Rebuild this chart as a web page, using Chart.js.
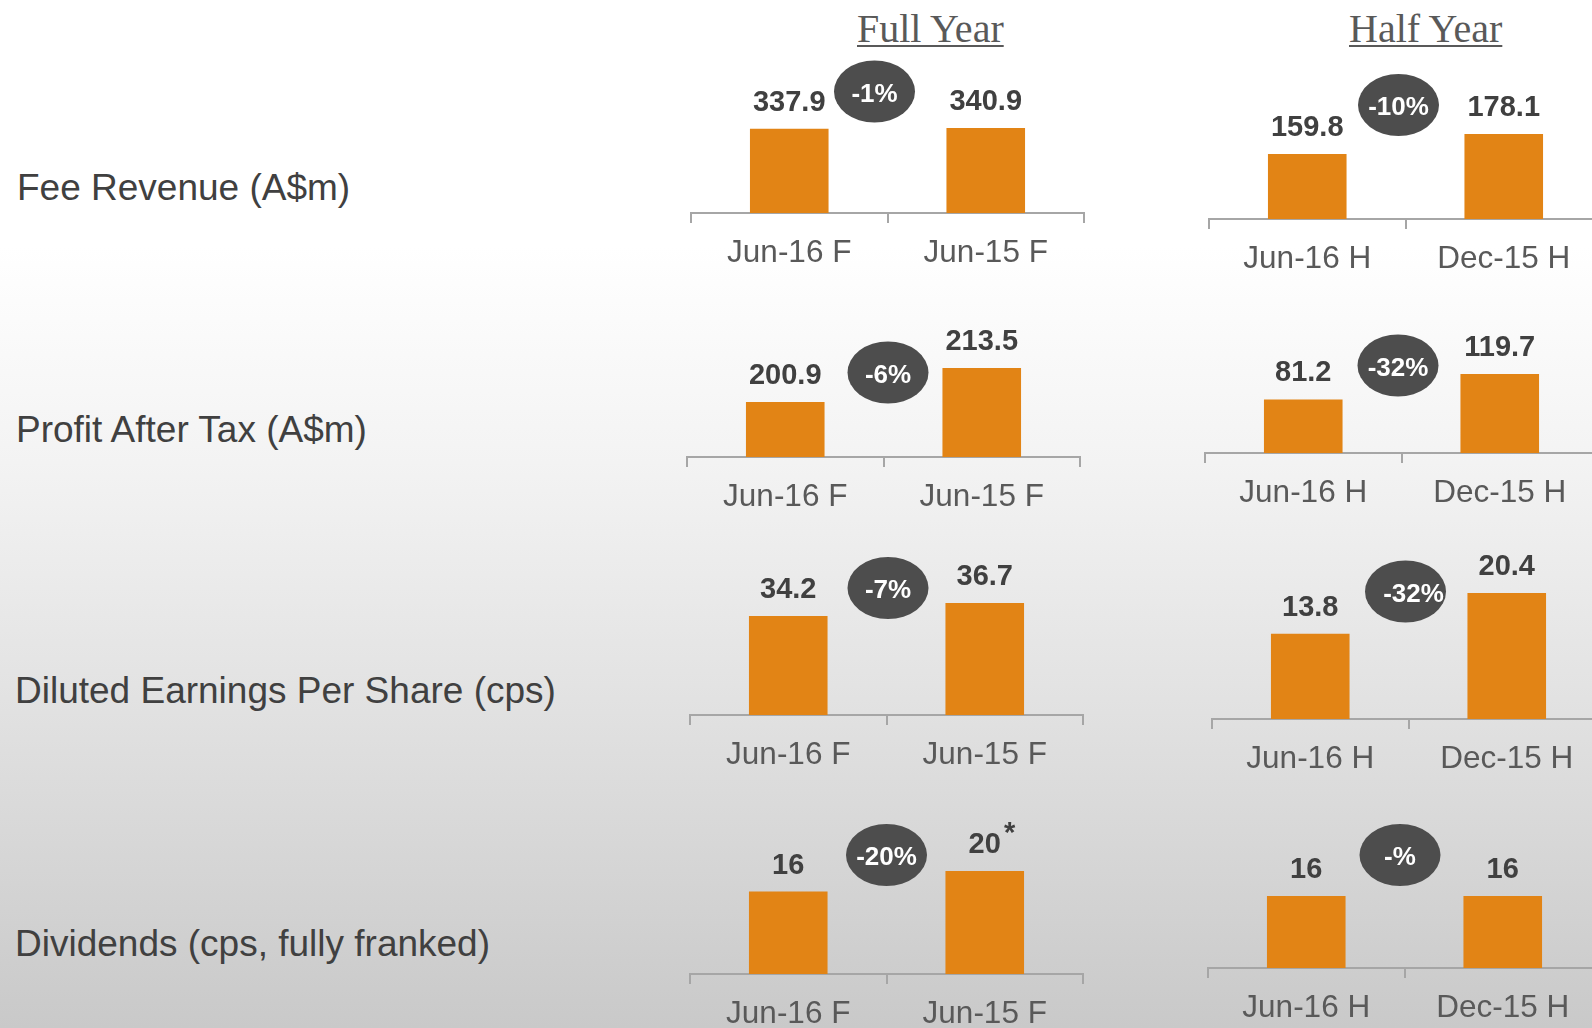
<!DOCTYPE html>
<html>
<head>
<meta charset="utf-8">
<script src="https://cdn.jsdelivr.net/npm/chart.js@4.4.0/dist/chart.umd.min.js"></script>
<style>
  html, body { margin: 0; padding: 0; }
  body {
    width: 1592px; height: 1028px; overflow: hidden; position: relative;
    background: linear-gradient(to bottom, #ffffff 0%, #ffffff 24%, #f3f3f3 45%, #e2e2e2 68%, #c9c9c9 100%);
    font-family: "Liberation Sans", Arial, sans-serif;
  }
  .rowLabel { position: absolute; font-size: 37px; line-height: 37px; color: #404040; white-space: nowrap; }
  .head { position: absolute; font-family: "Liberation Serif", "Times New Roman", serif; font-size: 40px; line-height: 40px;
          color: #595959; text-decoration: underline; text-decoration-thickness: 2px; text-underline-offset: 3px; white-space: nowrap; }
  canvas { position: absolute; }
</style>
</head>
<body>
<script>
// row titles and column heads
const metrics = ['Fee Revenue (A$m)', 'Profit After Tax (A$m)', 'Diluted Earnings Per Share (cps)', 'Dividends (cps, fully franked)'];
const headers = ['Full Year', 'Half Year'];

// categories
const fyLabels = ['Jun-16 F', 'Jun-15 F'];
const hyLabels = ['Jun-16 H', 'Dec-15 H'];

// values per metric
const fyValues = [[337.9, 340.9], [200.9, 213.5], [34.2, 36.7], [16, 20]];
const hyValues = [[159.8, 178.1], [81.2, 119.7], [13.8, 20.4], [16, 16]];
const fyChange = ['-1%', '-6%', '-7%', '-20%'];
const hyChange = ['-10%', '-32%', '-32%', '-%'];
const fyMarks = [['', ''], ['', ''], ['', ''], ['', '*']];
const hyMarks = [['', ''], ['', ''], ['', ''], ['', '']];

// value axis ranges (the slide uses a different hidden axis per chart)
const fyAxisMin = [0, 180.5, 15.2, 0];
const fyAxisMax = [662.7, 241.7, 46.9, 32];
const hyAxisMin = [100.3, 0, 0, 0];
const hyAxisMax = [251.3, 250, 26.7, 36.7];

// layout
const labelTops = [169, 411, 672, 925];
const labelLefts = [17, 16, 15, 15];
const headLefts = [857, 1349];
const fyPlace = [
  { left: 691, axisY: 213, badge: [-13, -121.5], tdx: 0 },
  { left: 687, axisY: 457, badge: [4.5, -84.5], tdx: 0 },
  { left: 690, axisY: 715, badge: [1.5, -127], tdx: 0 },
  { left: 690, axisY: 974, badge: [0, -119], tdx: 0 }
];
const hyPlace = [
  { left: 1209, axisY: 219, badge: [-7, -114], tdx: 0 },
  { left: 1205, axisY: 453, badge: [-3.5, -87.5], tdx: 0 },
  { left: 1212, axisY: 719, badge: [-3, -127.5], tdx: 8 },
  { left: 1208, axisY: 968, badge: [-4.5, -113], tdx: 0 }
];
const AXIS_W = 393, PAD = 4, ABOVE = 170, BELOW = 70;
const FONT = '"Liberation Sans", Arial, sans-serif';

metrics.forEach((m, i) => {
  let d = document.createElement('div');
  d.className = 'rowLabel';
  d.textContent = m;
  d.style.left = labelLefts[i] + 'px';
  d.style.top = labelTops[i] + 'px';
  document.body.appendChild(d);
});
headers.forEach((h, i) => {
  let d = document.createElement('div');
  d.className = 'head';
  d.textContent = h;
  d.style.left = headLefts[i] + 'px';
  d.style.top = '9px';
  document.body.appendChild(d);
});

const barLabels = {
  id: 'barLabels',
  afterDatasetsDraw(chart, args, opts) {
    const ctx = chart.ctx;
    const bars = chart.getDatasetMeta(0).data;
    const vals = chart.data.datasets[0].data;
    ctx.save();
    ctx.fillStyle = '#404040';
    ctx.font = 'bold 29px ' + FONT;
    ctx.textAlign = 'center';
    ctx.textBaseline = 'alphabetic';
    bars.forEach((b, i) => {
      const txt = String(vals[i]);
      ctx.fillText(txt, b.x, b.y - 18);
      if (opts.marks[i]) {
        const w = ctx.measureText(txt).width;
        ctx.textAlign = 'left';
        ctx.fillText(opts.marks[i], b.x + w / 2 + 3, b.y - 29);
        ctx.textAlign = 'center';
      }
    });
    // change badge
    const cx = (bars[0].x + bars[1].x) / 2 + opts.badge[0];
    const cy = chart.chartArea.bottom + opts.badge[1];
    ctx.fillStyle = '#4d4d4d';
    ctx.beginPath();
    ctx.ellipse(cx, cy, 40.5, 31, 0, 0, Math.PI * 2);
    ctx.fill();
    ctx.fillStyle = '#ffffff';
    ctx.font = 'bold 26px ' + FONT;
    ctx.textBaseline = 'middle';
    ctx.fillText(opts.change, cx + opts.tdx, cy + 3);
    ctx.restore();
  }
};

function makeBars(labels, values, min, max, place, change, marks) {
  const c = document.createElement('canvas');
  const w = AXIS_W + PAD * 2, h = ABOVE + BELOW;
  c.width = w; c.height = h;
  c.style.width = w + 'px'; c.style.height = h + 'px';
  c.style.left = (place.left - PAD) + 'px';
  c.style.top = (place.axisY - ABOVE) + 'px';
  document.body.appendChild(c);
  return new Chart(c, {
    type: 'bar',
    data: {
      labels: labels,
      datasets: [{
        data: values,
        backgroundColor: '#e28415',
        borderWidth: 0,
        categoryPercentage: 1,
        barPercentage: 0.4
      }]
    },
    options: {
      responsive: false,
      animation: false,
      devicePixelRatio: 1,
      layout: { padding: { left: PAD, right: PAD, top: 5, bottom: 0 } },
      plugins: {
        legend: { display: false },
        tooltip: { enabled: false },
        barLabels: { badge: place.badge, tdx: place.tdx, change: change, marks: marks }
      },
      scales: {
        y: { display: false, min: min, max: max },
        x: {
          afterFit(scale) { scale.height = BELOW; },
          grid: { drawOnChartArea: false, tickLength: 10, color: '#a6a6a6', lineWidth: 2 },
          border: { display: true, color: '#a6a6a6', width: 2 },
          ticks: { color: '#595959', font: { family: FONT, size: 31.5 }, padding: 11, maxRotation: 0, autoSkip: false }
        }
      }
    },
    plugins: [barLabels]
  });
}

for (let i = 0; i < 4; i++) {
  makeBars(fyLabels, fyValues[i], fyAxisMin[i], fyAxisMax[i], fyPlace[i], fyChange[i], fyMarks[i]);
  makeBars(hyLabels, hyValues[i], hyAxisMin[i], hyAxisMax[i], hyPlace[i], hyChange[i], hyMarks[i]);
}
</script>
</body>
</html>
